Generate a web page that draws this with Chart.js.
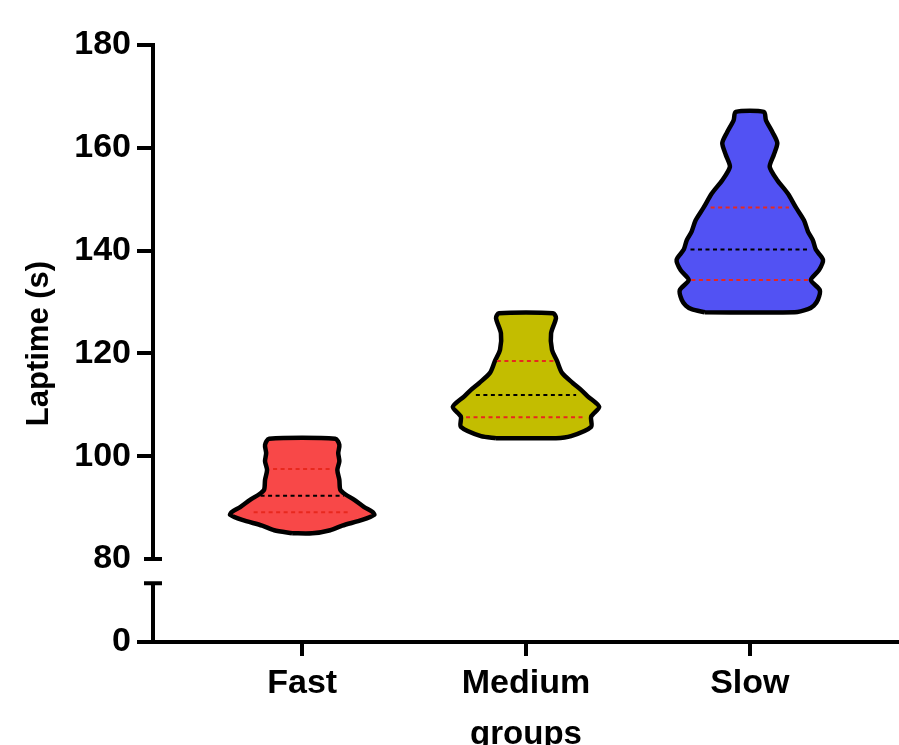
<!DOCTYPE html>
<html>
<head>
<meta charset="utf-8">
<title>Laptime by group</title>
<script src="https://cdn.jsdelivr.net/npm/chart.js@4.4.1/dist/chart.umd.min.js"></script>
<style>
  html, body { margin: 0; padding: 0; background: #ffffff; overflow: hidden; }
  #wrap { width: 899px; height: 745px; }
</style>
</head>
<body>
<div id="wrap"><canvas id="chart" width="899" height="745"></canvas></div>
<script>
// Groups along the x axis
const categories = ['Fast', 'Medium', 'Slow'];

// Violin outlines: laptime levels (s) and the half-width of the density at each level
const fastLevels      = [85.0, 85.6, 86.5, 87.6, 88.6, 89.2, 90.1, 91.5, 92.6, 93.5, 95.4, 97.3, 99.0, 100.6, 102.2, 103.4];
const fastHalfWidths  = [0.045, 0.125, 0.179, 0.268, 0.322, 0.313, 0.277, 0.233, 0.192, 0.170, 0.166, 0.157, 0.166, 0.161, 0.166, 0.148];

const mediumLevels     = [103.5, 103.9, 105.7, 107.7, 109.6, 111.6, 112.9, 114.2, 116.2, 118.5, 120.7, 123.9, 126.9, 127.8];
const mediumHalfWidths = [0.134, 0.201, 0.291, 0.291, 0.327, 0.277, 0.246, 0.210, 0.161, 0.139, 0.116, 0.112, 0.134, 0.121];

const slowLevels     = [128.0, 128.6, 129.3, 130.4, 132.3, 134.3, 136.2, 138.2, 140.2, 142.0, 143.7, 145.9, 148.4, 151.1, 153.7, 156.3, 158.6, 160.9, 162.9, 165.4, 167.0];
const slowHalfWidths = [0.201, 0.260, 0.286, 0.304, 0.313, 0.273, 0.309, 0.327, 0.295, 0.282, 0.260, 0.242, 0.206, 0.170, 0.123, 0.089, 0.107, 0.123, 0.103, 0.072, 0.063];

// Quartiles [Q1, median, Q3] and the half-width of each quartile line
const fastQuartiles        = [89.1, 92.3, 97.5];
const fastQuartileWidths   = [0.217, 0.186, 0.130];
const mediumQuartiles      = [107.6, 111.9, 118.5];
const mediumQuartileWidths = [0.268, 0.224, 0.130];
const slowQuartiles        = [134.3, 140.2, 148.4];
const slowQuartileWidths   = [0.261, 0.265, 0.175];

// Y axis ticks: the bottom tick of the broken axis carries the label 0
const yAxisFloor   = 63.85;
const yBreakTop    = 75.3;
const yTickValues  = [yAxisFloor, 80, 100, 120, 140, 160, 180];
const yTickLabels  = ['0', '80', '100', '120', '140', '160', '180'];

const groups = [
  { levels: fastLevels,   widths: fastHalfWidths,   q: fastQuartiles,   qw: fastQuartileWidths,   fill: '#F84848' },
  { levels: mediumLevels, widths: mediumHalfWidths, q: mediumQuartiles, qw: mediumQuartileWidths, fill: '#C3BD00' },
  { levels: slowLevels,   widths: slowHalfWidths,   q: slowQuartiles,   qw: slowQuartileWidths,   fill: '#5252F3' }
];

const FONT = '"Liberation Sans", Arial, Helvetica, sans-serif';

// Closed outline: up the left side, down the right side, back to the start
function outline(center, levels, widths) {
  const pts = [];
  for (let k = 0; k < levels.length; k++) pts.push({ x: center - widths[k], y: levels[k] });
  for (let k = levels.length - 1; k >= 0; k--) pts.push({ x: center + widths[k], y: levels[k] });
  pts.push({ x: center - widths[0], y: levels[0] });
  return pts;
}

const datasets = [];
groups.forEach((g, i) => {
  datasets.push({
    data: outline(i, g.levels, g.widths),
    showLine: true,
    fill: 'shape',
    backgroundColor: g.fill,
    borderColor: '#000000',
    borderWidth: 4.5,
    borderJoinStyle: 'round',
    tension: 0.25,
    pointRadius: 0,
    order: 2
  });
  g.q.forEach((v, j) => {
    datasets.push({
      data: [{ x: i - g.qw[j], y: v }, { x: i + g.qw[j], y: v }],
      showLine: true,
      fill: false,
      borderColor: j === 1 ? '#000000' : '#E8281E',
      borderWidth: 2,
      borderDash: [4, 3.5],
      pointRadius: 0,
      order: 1
    });
  });
});

// Draws the broken y axis: two segments with end caps
const brokenAxis = {
  id: 'brokenAxis',
  afterDraw(chart) {
    const { ctx, chartArea } = chart;
    const y = chart.scales.y;
    const x0 = chartArea.left;
    ctx.save();
    ctx.strokeStyle = '#000000';
    ctx.lineWidth = 4;
    ctx.lineCap = 'butt';
    ctx.beginPath();
    ctx.moveTo(x0, y.getPixelForValue(180) - 2);
    ctx.lineTo(x0, y.getPixelForValue(80));
    ctx.moveTo(x0, y.getPixelForValue(yBreakTop));
    ctx.lineTo(x0, y.getPixelForValue(yAxisFloor) + 2);
    ctx.stroke();
    ctx.beginPath();
    ctx.moveTo(x0 - 9, y.getPixelForValue(80));
    ctx.lineTo(x0 + 9, y.getPixelForValue(80));
    ctx.moveTo(x0 - 9, y.getPixelForValue(yBreakTop));
    ctx.lineTo(x0 + 9, y.getPixelForValue(yBreakTop));
    ctx.stroke();
    ctx.restore();
  }
};

new Chart(document.getElementById('chart'), {
  type: 'scatter',
  data: { datasets },
  plugins: [brokenAxis],
  options: {
    responsive: false,
    animation: false,
    devicePixelRatio: 1,
    layout: { padding: { top: 45, right: 0, bottom: 0, left: 0 } },
    plugins: { legend: { display: false }, tooltip: { enabled: false } },
    scales: {
      x: {
        type: 'linear',
        min: -2 / 3,
        max: 8 / 3,
        afterFit(scale) { scale.height = 103; },
        afterBuildTicks(scale) { scale.ticks = categories.map((_, i) => ({ value: i })); },
        ticks: {
          color: '#000000',
          padding: 7,
          font: { family: FONT, size: 34, weight: 'bold' },
          callback: (v) => categories[v]
        },
        grid: { drawOnChartArea: false, drawTicks: true, tickLength: 14, lineWidth: 4, color: '#000000' },
        border: { display: true, color: '#000000', width: 4 },
        title: {
          display: true,
          text: 'groups',
          color: '#000000',
          padding: { top: 0, bottom: -10 },
          font: { family: FONT, size: 33, weight: 'bold' }
        }
      },
      y: {
        type: 'linear',
        min: yAxisFloor,
        max: 180,
        afterFit(scale) { scale.width = 153; },
        afterBuildTicks(scale) { scale.ticks = yTickValues.map(v => ({ value: v })); },
        ticks: {
          color: '#000000',
          padding: 6,
          font: { family: FONT, size: 34, weight: 'bold' },
          callback: (v) => yTickLabels[yTickValues.indexOf(v)]
        },
        grid: {
          drawOnChartArea: false,
          drawTicks: true,
          tickLength: 16,
          lineWidth: 4,
          color: (c) => (c.tick && c.tick.value === 80 ? 'rgba(0,0,0,0)' : '#000000')
        },
        border: { display: false },
        title: {
          display: true,
          text: 'Laptime (s)',
          color: '#000000',
          padding: { top: 21, bottom: 0 },
          font: { family: FONT, size: 31, weight: 'bold' }
        }
      }
    }
  }
});
</script>
</body>
</html>
